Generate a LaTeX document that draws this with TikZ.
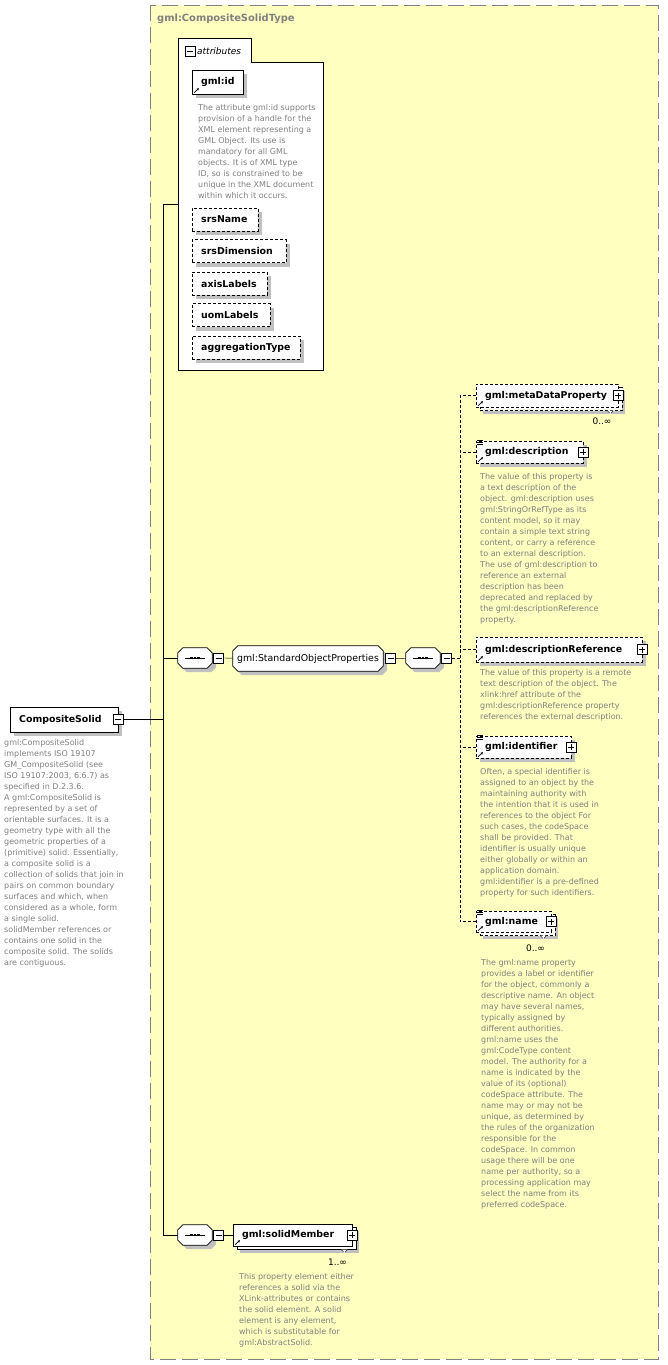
\documentclass[tikz,border=0pt]{standalone}
\usepackage{fontspec}
\setmainfont{DejaVu Sans}
\usetikzlibrary{shadows,arrows.meta}

\definecolor{typefill}{RGB}{255,255,192}
\definecolor{docgray}{RGB}{128,128,128}
\definecolor{shadowgray}{RGB}{192,192,192}

\pgfdeclarelayer{back}
\pgfsetlayers{back,main}

\tikzset{
  boxshadow/.style={general shadow={shadow xshift=4pt,shadow yshift=-4pt,fill=shadowgray}},
  many/.style={general shadow={shadow xshift=7pt,shadow yshift=-7pt,fill=shadowgray},
               general shadow={shadow xshift=3.5pt,shadow yshift=-3.5pt,fill=white,draw}},
  elem/.style={rectangle,draw,fill=white,anchor=west,minimum height=23pt,inner xsep=9pt,inner ysep=0pt,
               align=left,font=\fontsize{9.4}{11}\selectfont\bfseries},
  opt/.style={dash pattern=on 3pt off 2pt},
  link/.style={dash pattern=on 3pt off 2pt},
  docs/.style={anchor=north west,inner sep=0pt,align=left,text=docgray,font=\fontsize{8}{11}\selectfont},
  mult/.style={inner sep=0pt,font=\fontsize{9}{11}\selectfont},
  typebox/.style={draw=docgray,fill=typefill,line width=0.9pt,dash pattern=on 16pt off 6pt},
  pmbox/.style={rectangle,draw,fill=white,solid,minimum size=10pt,inner sep=0pt,line width=1pt},
  pmminus/.style={pmbox,path picture={
      \draw[line width=0.8pt] ([xshift=2pt]path picture bounding box.west) -- ([xshift=-2pt]path picture bounding box.east);}},
  pmplus/.style={pmbox,path picture={
      \draw[line width=0.8pt] ([xshift=2pt]path picture bounding box.west) -- ([xshift=-2pt]path picture bounding box.east)
        ([yshift=-2pt]path picture bounding box.north) -- ([yshift=2pt]path picture bounding box.south);}},
  seq/.style={rectangle,minimum width=34pt,minimum height=20pt,inner sep=0pt},
  group/.style={rectangle,minimum width=150pt,minimum height=25pt,inner sep=1pt,font=\fontsize{9.4}{11}\selectfont}
}

% small icons on the element boxes
\newcommand\refmark[1]{\draw[-{Stealth[length=2.5pt,width=2.5pt]},line width=0.7pt]
  ([shift={(2pt,1.5pt)}]#1.south west) -- ++(5pt,4.5pt);}
\newcommand\docmark[1]{\foreach \k in {-0.4,1.4,3.2}
  \draw[line width=0.5pt] ([shift={(1pt,-\k pt)}]#1.north west) -- ++(5.5pt,0pt);}
\newcommand\notch[1]{\draw[opt,fill=white] ([shift={(-11pt,-3.5pt)}]#1.south east) -- ++(3pt,-3pt) -- ++(3pt,3pt);}
% octagon outline of sequence and group boxes
\newcommand\octopath[1]{([xshift=5pt]#1.north west) -- ([xshift=-5pt]#1.north east) -- ([yshift=-5pt]#1.north east)
  -- ([yshift=5pt]#1.south east) -- ([xshift=-5pt]#1.south east) -- ([xshift=5pt]#1.south west)
  -- ([yshift=5pt]#1.south west) -- ([yshift=-5pt]#1.north west) -- cycle}
\newcommand\octo[1]{\fill[shadowgray,transform canvas={shift={(4pt,-4pt)}}] \octopath{#1};
  \draw[fill=white,line width=0.8pt] \octopath{#1};}
\newcommand\seqmark[1]{\draw[line width=0.7pt] ([xshift=7pt]#1.west) -- ([xshift=-7pt]#1.east);
  \foreach \k in {-3.6,0,3.6} \fill ([xshift=\k pt]#1.center) +(-1.3pt,-1.3pt) rectangle +(1.3pt,1.3pt);}

\begin{document}
\begin{tikzpicture}[x=1pt,y=-1pt,line width=0.8pt]
\useasboundingbox (0,0) rectangle (668,1365);

% complex type
\begin{pgfonlayer}{back}
\draw[typebox] (150,5) rectangle (658,1359);
\end{pgfonlayer}
\node[anchor=west,inner sep=0pt,text=docgray,font=\fontsize{9.9}{11}\selectfont\bfseries] (typename) at (157,19) {gml:CompositeSolidType};

% attributes
\draw[fill=white] (178,38) -- (251,38) -- (251,62) -- (323,62) -- (323,370) -- (178,370) -- cycle;
\node[pmminus] (attrm) at (190,51) {};
\node[anchor=west,inner sep=0pt,font=\fontsize{9}{11}\selectfont\itshape] (attrlbl) at (197,51) {attributes};
\coordinate (attr) at (178,204);

\node[elem,boxshadow,text width=33pt,minimum height=24pt] (gmlid) at (192,82) {gml:id};
\refmark{gmlid}
\node[docs] (gmliddoc) at (198,104) {The attribute gml:id supports\\provision of a handle for the\\XML element representing a\\GML Object. Its use is\\mandatory for all GML\\objects. It is of XML type\\ID, so is constrained to be\\unique in the XML document\\within which it occurs.};
\node[elem,opt,boxshadow,text width=48pt] (srsname) at (192,219.5) {srsName};
\node[elem,opt,boxshadow,text width=76pt] (srsdim) at (192,251) {srsDimension};
\node[elem,opt,boxshadow,text width=57pt] (axislbl) at (192,283.5) {axisLabels};
\node[elem,opt,boxshadow,text width=60pt] (uomlbl) at (192,315) {uomLabels};
\node[elem,opt,boxshadow,text width=90pt] (aggtype) at (192,347.5) {aggregationType};

% root element
\node[elem,boxshadow,text width=90pt,minimum height=25pt] (comp) at (10,719.5) {CompositeSolid};
\node[pmminus] (compm) at (comp.east) {};
\node[docs] (compdoc) at (4,739.5) {gml:CompositeSolid\\implements ISO 19107\\GM\_CompositeSolid (see\\ISO 19107:2003, 6.6.7) as\\specified in D.2.3.6.\\A gml:CompositeSolid is\\represented by a set of\\orientable surfaces. It is a\\geometry type with all the\\geometric properties of a\\(primitive) solid. Essentially,\\a composite solid is a\\collection of solids that join in\\pairs on common boundary\\surfaces and which, when\\considered as a whole, form\\a single solid.\\solidMember references or\\contains one solid in the\\composite solid. The solids\\are contiguous.};

% tree trunk
\coordinate (tt) at (163,204);
\coordinate (tb) at (163,1235);
\draw (tt) -- (tb);
\draw (tt) -- (attr);
\draw (compm) -- (compm -| tt);

% standard object properties
\node[seq] (seqa) at (195,658) {};
\node[pmminus,anchor=west] (seqam) at ([xshift=1pt]seqa.east) {};
\node[group] (sop) at (308,658.5) {gml:StandardObjectProperties};
\node[pmminus,anchor=west] (sopm) at ([xshift=2pt]sop.east) {};
\node[seq] (seqb) at (423,658) {};
\node[pmminus,anchor=west] (seqbm) at ([xshift=1pt]seqb.east) {};
\draw (tt |- seqa) -- (seqa);
\draw (seqam) -- (sop);
\draw (sopm) -- (seqb);

\node[elem,opt,many,text width=124pt] (meta) at (476,395.5) {gml:metaDataProperty};
\node[pmplus] (metap) at (meta.east) {};
\refmark{meta}
\notch{meta}
\node[mult] (metamult) at (602,421) {0..∞};

\node[elem,opt,boxshadow,text width=89pt,minimum height=22pt] (desc) at (476,452) {gml:description};
\node[pmplus] (descp) at (desc.east) {};
\refmark{desc}
\docmark{desc}
\node[docs] (descdoc) at (480,473.5) {The value of this property is\\a text description of the\\object. gml:description uses\\gml:StringOrRefType as its\\content model, so it may\\contain a simple text string\\content, or carry a reference\\to an external description.\\The use of gml:description to\\reference an external\\description has been\\deprecated and replaced by\\the gml:descriptionReference\\property.};

\node[elem,opt,boxshadow,text width=148pt,minimum height=25pt] (dref) at (476,649.5) {gml:descriptionReference};
\node[pmplus] (drefp) at (dref.east) {};
\refmark{dref}
\node[docs] (drefdoc) at (480,669.5) {The value of this property is a remote\\text description of the object. The\\xlink:href attribute of the\\gml:descriptionReference property\\references the external description.};

\node[elem,opt,boxshadow,text width=77pt,minimum height=22pt] (ident) at (476,747) {gml:identifier};
\node[pmplus] (identp) at (ident.east) {};
\refmark{ident}
\docmark{ident}
\node[docs] (identdoc) at (480,768.5) {Often, a special identifier is\\assigned to an object by the\\maintaining authority with\\the intention that it is used in\\references to the object For\\such cases, the codeSpace\\shall be provided. That\\identifier is usually unique\\either globally or within an\\application domain.\\gml:identifier is a pre-defined\\property for such identifiers.};

\node[elem,opt,many,text width=57pt,minimum height=21pt] (name) at (476,921.5) {gml:name};
\node[pmplus] (namep) at (name.east) {};
\refmark{name}
\docmark{name}
\notch{name}
\node[mult] (namemult) at (535.5,948) {0..∞};
\node[docs] (namedoc) at (481,959.5) {The gml:name property\\provides a label or identifier\\for the object, commonly a\\descriptive name. An object\\may have several names,\\typically assigned by\\different authorities.\\gml:name uses the\\gml:CodeType content\\model.  The authority for a\\name is indicated by the\\value of its (optional)\\codeSpace attribute.  The\\name may or may not be\\unique, as determined by\\the rules of the organization\\responsible for the\\codeSpace.  In common\\usage there will be one\\name per authority, so a\\processing application may\\select the name from its\\preferred codeSpace.};

% dashed choice links
\coordinate (jt) at (460,395.5);
\draw[link] (seqbm) -- (seqbm -| jt);
\draw[link] (meta) -| (name -| jt) -- (name);
\draw[link] (desc) -- (desc -| jt);
\draw[link] (dref) -- (dref -| jt);
\draw[link] (ident) -- (ident -| jt);

% solid members
\node[seq] (seqc) at (195,1235) {};
\node[pmminus,anchor=west] (seqcm) at ([xshift=1pt]seqc.east) {};
\node[elem,many,text width=101pt,minimum height=22pt] (member) at (233,1235) {gml:solidMember};
\node[pmplus] (memberp) at (member.east) {};
\refmark{member}
\notch{member}
\node[mult] (membermult) at (337.5,1262) {1..∞};
\node[docs] (memberdoc) at (239,1273.5) {This property element either\\references a solid via the\\XLink-attributes or contains\\the solid element. A solid\\element is any element,\\which is substitutable for\\gml:AbstractSolid.};
\draw (tb) -- (seqc);
\draw (seqcm) -- (member);

% outlines of the sequence and group boxes
\begin{pgfonlayer}{back}
\octo{seqa}
\octo{sop}
\octo{seqb}
\octo{seqc}
\end{pgfonlayer}
\seqmark{seqa}
\seqmark{seqb}
\seqmark{seqc}
\end{tikzpicture}
\end{document}
